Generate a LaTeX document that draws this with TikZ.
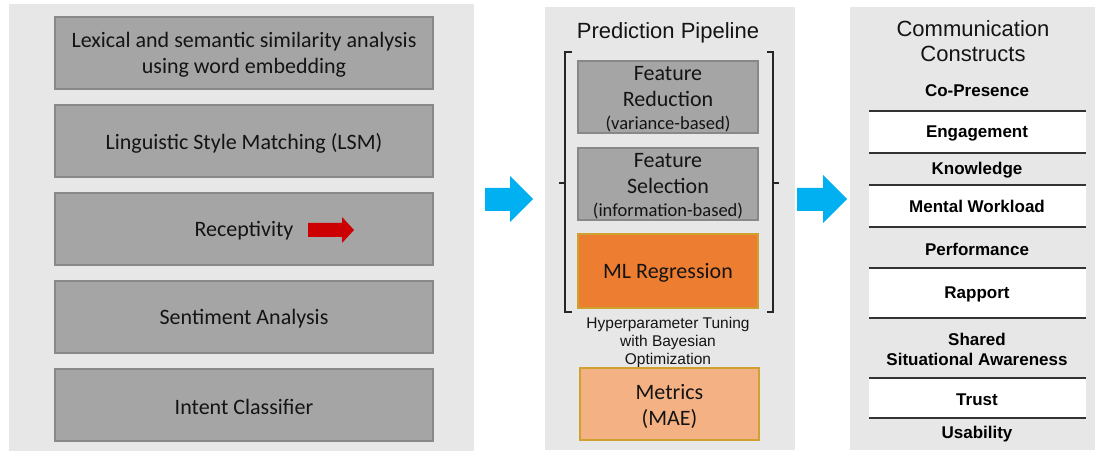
\documentclass[tikz,border=0pt]{standalone}
\usepackage{fontspec}
\setmainfont{Carlito}
\newfontfamily\arialf{Liberation Sans}
\definecolor{panelbg}{HTML}{E7E7E7}
\definecolor{boxgray}{HTML}{A5A5A5}
\definecolor{boxedge}{HTML}{888888}
\definecolor{mlorange}{HTML}{ED7D31}
\definecolor{metorange}{HTML}{F4B183}
\definecolor{goldedge}{HTML}{CFA12E}
\definecolor{arrowblue}{HTML}{00B0F0}
\definecolor{arrowred}{HTML}{CC0000}
\definecolor{txt}{HTML}{141414}
\tikzset{
  panel/.style={fill=panelbg, draw=none},
  boxtext/.style={align=center, text=txt, inner sep=0pt, font=\fontsize{22bp}{26bp}\selectfont},
  lbox/.style={draw=boxedge, line width=1.6bp, fill=boxgray, minimum width=378bp, minimum height=72bp, inner sep=0pt},
  mbox/.style={draw=boxedge, line width=1.6bp, fill=boxgray, minimum width=180bp, minimum height=72bp, inner sep=0pt},
  obox/.style={draw=goldedge, line width=1.4bp, minimum width=180bp, inner sep=0pt},
  ttl/.style={align=center, text=txt, font=\arialf\fontsize{22bp}{25bp}\selectfont, inner sep=0pt},
  item/.style={align=center, text=black, font=\arialf\bfseries\fontsize{17bp}{20bp}\selectfont, inner sep=0pt},
  wrow/.style={fill=white, draw=none, minimum width=217bp, inner sep=0pt},
  sep/.style={draw=black!80, line width=1.2bp},
  brk/.style={draw=black!85, line width=1.4bp},
  bigarrow/.style={fill=arrowblue, draw=none},
}
\begin{document}
\begin{tikzpicture}[x=1bp,y=-1bp]
\useasboundingbox (0,0) rectangle (1095,452);
\fill[white] (0,0) rectangle (1095,452);
% panels
\fill[panel] (9,4) rectangle (474,451);
\fill[panel] (545,7) rectangle (795,450);
\fill[panel] (850,7) rectangle (1095,450);

% left boxes
\node[lbox] (lex) at (244,53) {};
\node[boxtext] (lext) at (244,55) {Lexical and semantic similarity analysis\\using word embedding};
\node[lbox] (lsm) at (244,141) {};
\node[boxtext] (lsmt) at (244,143) {Linguistic Style Matching (LSM)};
\node[lbox] (rec) at (244,229) {};
\node[boxtext] (rect) at (244,231) {Receptivity};
\node[lbox] (sen) at (244,317) {};
\node[boxtext] (sent) at (244,319) {Sentiment Analysis};
\node[lbox] (int) at (244,405) {};
\node[boxtext] (intt) at (244,407) {Intent Classifier};
\fill[arrowred] (308,223) -- (342,223) -- (342,217) -- (354,230) -- (342,243) -- (342,237) -- (308,237) -- cycle;

% arrows between panels
\fill[bigarrow] (485,188) -- (510,188) -- (510,176) -- (533,199) -- (510,222) -- (510,211) -- (485,211) -- cycle;
\fill[bigarrow] (797,188) -- (823,188) -- (823,175) -- (847,199) -- (823,223) -- (823,211) -- (797,211) -- cycle;

% middle
\node[ttl] (pp) at (668,33) {Prediction Pipeline};
\node[mbox] (fr) at (668,97) {};
\node[boxtext] (frt) at (668,99) {Feature\\Reduction\\[-3bp]{\fontsize{18.5bp}{22bp}\selectfont(variance-based)}};
\node[mbox] (fs) at (668,184) {};
\node[boxtext] (fst) at (668,186) {Feature\\Selection\\[-3bp]{\fontsize{18.5bp}{22bp}\selectfont(information-based)}};
\node[obox, fill=mlorange, minimum height=74bp] (ml) at (668,271) {};
\node[boxtext] (mlt) at (668,273) {ML Regression};
\node[align=center, text=txt, font=\arialf\fontsize{15.5bp}{18bp}\selectfont, inner sep=0pt] (hp) at (668,342) {Hyperparameter Tuning\\with Bayesian\\Optimization};
\node[obox, fill=metorange, minimum height=72bp, minimum width=179bp] (met) at (669.5,404) {};
\node[boxtext] (mett) at (669.5,406) {Metrics\\(MAE)};
\draw[brk] (572,52) -- (565,52) -- (565,312) -- (572,312);
\draw[brk] (565,183) -- (559,183);
\draw[brk] (767,52) -- (773,52) -- (773,312) -- (767,312);
\draw[brk] (773,183) -- (779,183);

% right
\node[ttl] (cc) at (973,41) {Communication\\Constructs};
\node[wrow, minimum height=42bp] (weng) at (977.5,132) {};
\node[wrow, minimum height=42bp] (wmw) at (977.5,206) {};
\node[wrow, minimum height=50bp] (wrap) at (977.5,293) {};
\node[wrow, minimum height=40bp] (wtr) at (977.5,398) {};
\foreach \yy in {111,153,185,227,268,318,378,418}
  \draw[sep] (869,\yy) -- (1086,\yy);
\node[item] (cop) at (977,91) {Co-Presence};
\node[item] (eng) at (977,133) {Engagement};
\node[item] (kno) at (977,170) {Knowledge};
\node[item] (mw) at (977,206) {Mental Workload};
\node[item] (per) at (977,249) {Performance};
\node[item] (rap) at (977,294) {Rapport};
\node[item] (ssa) at (977,349) {Shared\\Situational Awareness};
\node[item] (tru) at (977,400) {Trust};
\node[item] (usa) at (977,434) {Usability};
\end{tikzpicture}
\end{document}
